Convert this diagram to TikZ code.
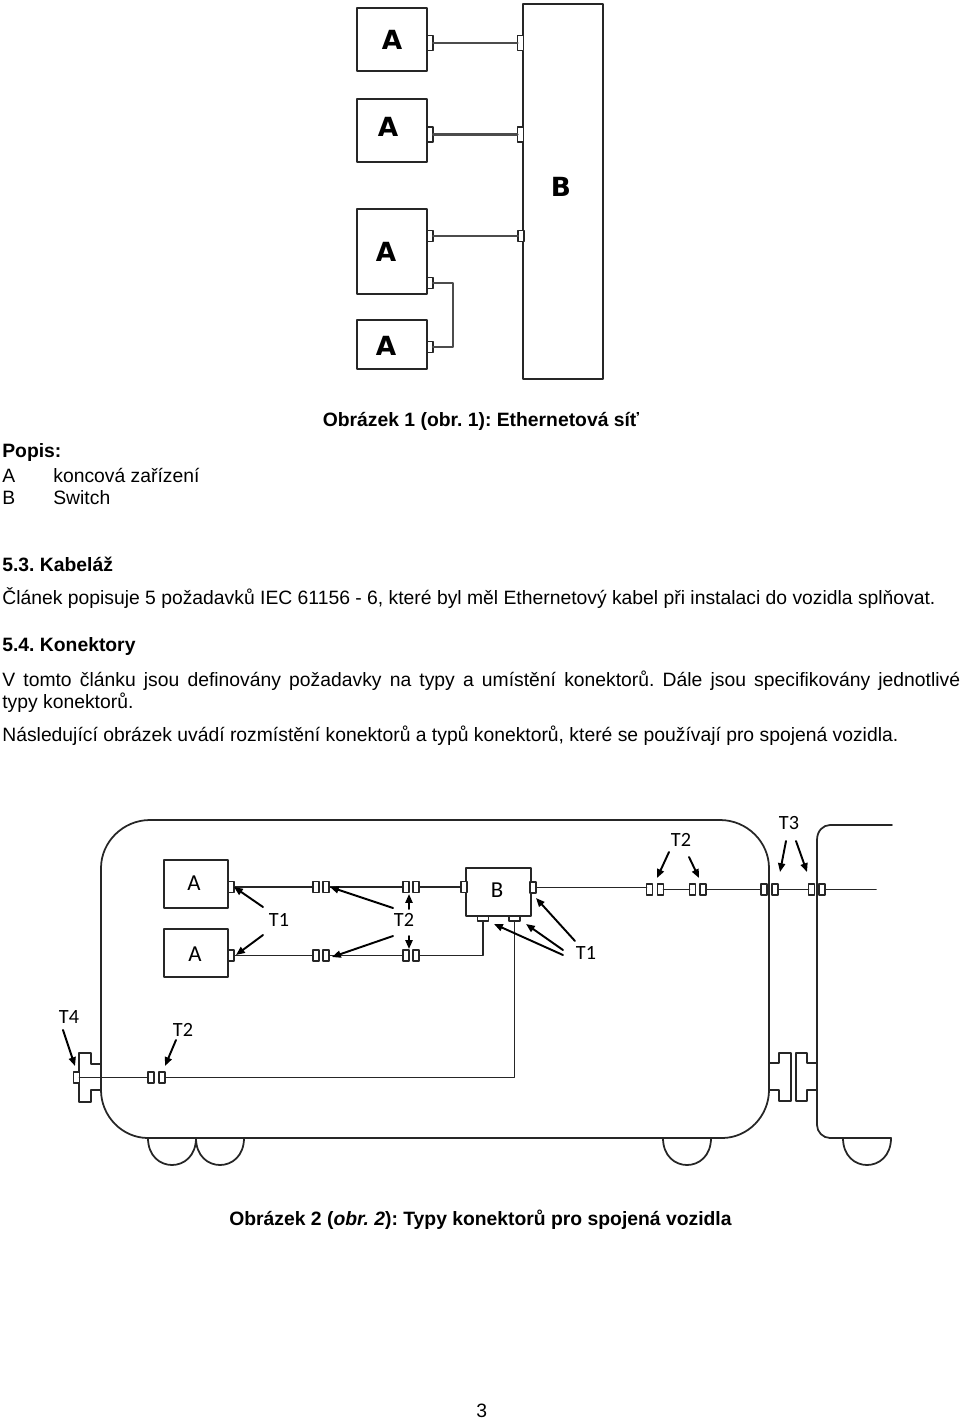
\documentclass[tikz,border=0pt]{standalone}
\usepackage{fontspec}
\setmainfont{Liberation Sans}
\newfontfamily\labelfont{Carlito}
\newfontfamily\bigfont{DejaVu Sans}
\usetikzlibrary{arrows.meta}
\tikzset{
	dev/.style = {draw=black!85, fill=white, inner sep=0pt, outer sep=0pt, line width=1pt},
	port/.style = {draw=black!85, fill=white, inner sep=0pt, outer sep=0pt, line width=0.8pt, minimum width=0.12cm, minimum height=0.22cm},
	porttall/.style = {port, minimum height=0.3cm},
	portlow/.style = {port, minimum width=0.22cm, minimum height=0.1cm},
	txt/.style = {anchor=base west, inner sep=0pt, font=\fontsize{11}{12}\selectfont\frenchspacing},
	txtb/.style = {txt, font=\fontsize{11}{12}\selectfont\frenchspacing\bfseries},
	tag/.style = {inner sep=0pt, font=\labelfont\fontsize{11.5}{12}\selectfont},
	taglarge/.style = {inner sep=0pt, font=\labelfont\fontsize{13}{14}\selectfont},
	biglabel/.style = {inner sep=0pt, font=\bigfont\fontsize{15}{16}\selectfont\bfseries},
	pointer/.style = {-{Triangle[length=5pt,width=4pt]}, line width=1.1pt},
	wire/.style = {line width=1pt, black!85},
	wiretop/.style = {line width=1.2pt, black!70},
	body/.style = {line width=1pt, black!85},
}
\begin{document}
\begin{tikzpicture}[x=0.02cm, y=-0.02cm, line cap=round, line join=round]
	\useasboundingbox (0,0) rectangle (960,1420);
	% network: end devices and switch
	\node[dev, minimum width=1.4cm, minimum height=1.26cm] (devA) at (392,39.5) {};
	\node[dev, minimum width=1.4cm, minimum height=1.26cm] (devB) at (392,130.5) {};
	\node[dev, minimum width=1.4cm, minimum height=1.7cm] (devC) at (392,251.5) {};
	\node[dev, minimum width=1.4cm, minimum height=0.98cm] (devD) at (392,344.5) {};
	\node[dev, minimum width=1.6cm, minimum height=7.5cm] (sw) at (563,191.5) {};
	\node[biglabel] (lblA) at (392,40) {A};
	\node[biglabel] (lblB) at (388,127) {A};
	\node[biglabel] (lblC) at (386,252) {A};
	\node[biglabel] (lblD) at (386,346) {A};
	\node[biglabel] (lblS) at (561,187) {B};
	% network: ports
	\foreach \name/\px/\py in {pa/430/43, pb/430/134.5, sa/520.5/43, sb/520.5/134.5}
		\node[porttall] (\name) at (\px,\py) {};
	\foreach \name/\px/\py in {pc/430/236, pd/430/283, pe/430/347, sc/521/236}
		\node[port] (\name) at (\px,\py) {};
	% network: cables
	\foreach \from/\to in {pa/sa, pb/sb, pc/sc}
		\draw[wiretop] (\from) -- (\to);
	\coordinate (bend) at (453,283);
	\draw[wiretop] (pd) -- (bend) |- (pe);
	% first car
	\draw[body] (150,820) -- (720,820) .. controls (747,820) and (769,842) .. (769,868) -- (769,1090)
		.. controls (769,1116) and (748,1138) .. (722,1138) -- (148,1138)
		.. controls (122,1138) and (101,1116) .. (101,1090) -- (101,868)
		.. controls (101,842) and (123,820) .. (150,820) -- cycle;
	% second car
	\draw[body] (892,825) -- (830,825) .. controls (823,825) and (817,831) .. (817,840) -- (817,1125)
		.. controls (817,1132) and (823,1138) .. (830,1138) -- (891,1138);
	% wheels
	\foreach \wx in {148,196,663,843}
		\draw[body] (\wx,1138) .. controls (\wx,1174) and (\wx+48,1174) .. (\wx+48,1138);
	% couplings
	\draw[body] (101,1064) -- (91,1064) -- (91,1053) -- (79,1053) -- (79,1102) -- (91,1102) -- (91,1090) -- (101,1090);
	\draw[body] (769,1063) -- (779,1063) -- (779,1053) -- (791,1053) -- (791,1101) -- (779,1101) -- (779,1090) -- (769,1090);
	\draw[body] (817,1063) -- (807,1063) -- (807,1053) -- (796,1053) -- (796,1101) -- (807,1101) -- (807,1090) -- (817,1090);
	% devices in the car
	\node[dev, minimum width=1.28cm, minimum height=0.96cm] (carA) at (196,884) {};
	\node[dev, minimum width=1.28cm, minimum height=0.96cm] (carB) at (196,953) {};
	\node[dev, minimum width=1.3cm, minimum height=0.96cm] (hub) at (498.5,892) {};
	\node[taglarge] (lblcarA) at (194,883) {A};
	\node[taglarge] (lblcarB) at (195,954) {A};
	\node[taglarge] (lblhub) at (497,890) {B};
	% connectors in the car
	\foreach \name/\px/\py in {
		qa/231/887, ca/316/887, cb/326/887, cc/406/887, cd/416/887, qh/464/887, qr/533/887.5,
		qb/231/955.5, ce/316/955.5, cf/326/955.5, cg/406/955.5, ch/416/955.5,
		ci/649.5/889.5, cj/660.5/889.5, ck/692.5/889.5, cl/703/889.5, cm/764/889.5, cn/775/889.5, co/811.5/889.5, cp/822/889.5,
		cq/151/1077.5, cr/162/1077.5, qt/76.5/1077.5}
		\node[port] (\name) at (\px,\py) {};
	\node[portlow] (qm) at (483,918.5) {};
	\node[portlow] (qn) at (514.5,918.5) {};
	\coordinate (lineend) at (876,889.5);
	% cables in the car
	\foreach \from/\to in {qa/ca, cb/cc, cd/qh, qb/ce, cf/cg, cj/ck, cl/cm, cn/co}
		\draw[wire] (\from) -- (\to);
	\draw[wire] (cp) -- (lineend);
	\draw[wire] (qr.east) -- (qr.east -| ci.west);
	\draw[wire] (ch) -| (qm);
	\draw[wire] (qt) -- (cq);
	\draw[wire] (cr) -| (qn);
	% type labels
	\node[tag] (tone) at (279,920) {T1};
	\node[tag] (ttwo) at (404,920) {T2};
	\node[tag] (toner) at (586,953) {T1};
	\node[tag] (ttwot) at (681,840) {T2};
	\node[tag] (tthree) at (789,823) {T3};
	\node[tag] (tfour) at (69,1017) {T4};
	\node[tag] (ttwol) at (183,1030) {T2};
	% pointers, free ends
	\foreach \name/\px/\py in {
		ea/234/887, eb/236/955, ec/330/887, ed/409/894, ee/332/957, ef/409/949,
		eg/536/898, eh/526/924, ei/494/924, ej/657/878, ek/699/878, el/780/872, em/807/872, en/75/1066, eo/165/1066}
		\coordinate (\name) at (\px,\py);
	\foreach \bx/\by/\target in {
		263/907/ea, 263/935/eb, 393/908/ec, 409/909/ed, 393/936/ee, 409/936/ef,
		575/941/eg, 563/950/eh, 563/955/ei, 669/852/ej, 689/857/ek, 786/841/el, 796/841/em, 63/1030/en, 176/1040/eo}
		\draw[pointer] (\bx,\by) -- (\target);
	% text
	\node[txtb] (capa) at (322.5,426) {Obrázek 1 (obr. 1): Ethernetová síť};
	\node[txtb] (popis) at (2,457) {Popis:};
	\node[txt] (keya) at (2,482) {A};
	\node[txt] (vala) at (53,482) {koncová zařízení};
	\node[txt] (keyb) at (2,504) {B};
	\node[txt] (valb) at (53,504) {Switch};
	\node[txtb] (heada) at (2,571) {5.3. Kabeláž};
	\node[txt] (para) at (2,604) {Článek popisuje 5 požadavků IEC 61156 - 6, které byl měl Ethernetový kabel při instalaci do vozidla splňovat.};
	\node[txtb] (headb) at (2,651) {5.4. Konektory};
	\node[txt] (parb) at (2,686) {\makebox[19.16cm][s]{V tomto článku jsou definovány požadavky na typy a umístění konektorů. Dále jsou specifikovány jednotlivé}};
	\node[txt] (parc) at (2,708) {typy konektorů.};
	\node[txt] (pard) at (2,741) {Následující obrázek uvádí rozmístění konektorů a typů konektorů, které se používají pro spojená vozidla.};
	\node[txtb] (capb) at (229,1225) {Obrázek 2 ({\itshape obr. 2}): Typy konektorů pro spojená vozidla};
	\node[txt] (pageno) at (476,1417) {3};
\end{tikzpicture}
\end{document}
